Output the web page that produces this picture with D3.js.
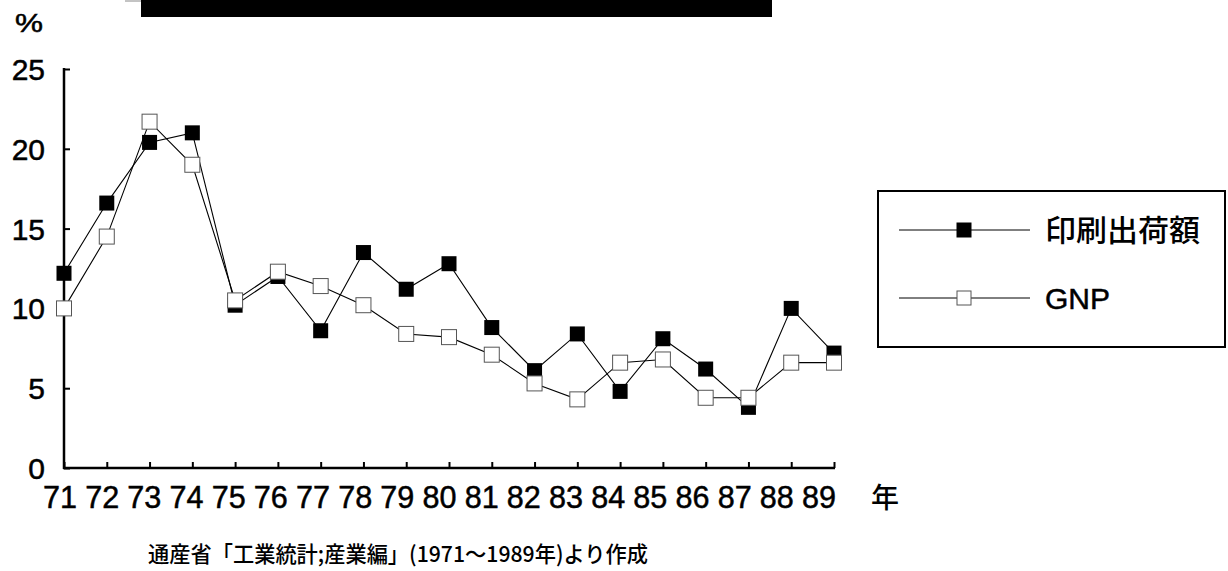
<!DOCTYPE html>
<html><head><meta charset="utf-8">
<script src="https://cdn.jsdelivr.net/npm/d3@7/dist/d3.min.js"></script>
<style>
html,body{margin:0;padding:0;background:#fff;}
svg{display:block;}
text{font-family:"Liberation Sans",Arial,"Noto Sans CJK JP",sans-serif;fill:#000;}
.jp{font-family:"Noto Sans CJK JP","Liberation Sans",sans-serif;}
.num{stroke:#000;stroke-width:0.5px;}
</style></head>
<body>
<svg id="c" width="1228" height="571"></svg>
<script>
const years = ["71","72","73","74","75","76","77","78","79","80","81","82","83","84","85","86","87","88","89"];
const printing = [12.2,16.6,20.4,21.0,10.2,12.0,8.6,13.5,11.2,12.8,8.8,6.1,8.4,4.8,8.1,6.2,3.8,10.0,7.2];
const gnp = [10.0,14.5,21.7,19.0,10.5,12.3,11.4,10.2,8.4,8.2,7.1,5.3,4.3,6.6,6.8,4.4,4.4,6.6,6.6];
const yTicks = [0,5,10,15,20,25];
const seriesNames = ["印刷出荷額","GNP"];
const unitLabel = "%";
const xUnit = "年";
const caption = "通産省「工業統計;産業編」(1971～1989年)より作成";

const svg = d3.select("#c");
const x = d3.scalePoint().domain(years).range([64, 834]);
const xl = d3.scalePoint().domain(years).range([60, 819]);
const y = d3.scaleLinear().domain([0,25]).range([468, 69]);

// top black bar
svg.append("rect").attr("x",141).attr("y",0).attr("width",631).attr("height",17).attr("fill","#000");
svg.append("line").attr("x1",125).attr("x2",141).attr("y1",1).attr("y2",1).attr("stroke","#888").attr("stroke-width",1);

// Y axis
const yAxis = d3.axisRight(y).tickValues(yTicks).tickSize(6).tickFormat("");
const gy = svg.append("g").attr("transform","translate(64,0)").call(yAxis);
gy.select(".domain").remove();
gy.selectAll(".tick line").attr("stroke","#000").attr("stroke-width",2);
svg.append("line").attr("x1",64).attr("x2",64).attr("y1",y(25)-1).attr("y2",y(0)+1).attr("stroke","#000").attr("stroke-width",2.5);
svg.selectAll(".ylab").data(yTicks).enter().append("text").attr("class","num")
  .attr("x",45).attr("y",d=>y(d)+11).attr("text-anchor","end").attr("font-size",30).text(d=>d);
svg.append("text").attr("class","num").attr("x",15).attr("y",32).attr("font-size",26)
  .attr("textLength",28).attr("lengthAdjust","spacingAndGlyphs").text(unitLabel);

// X axis
const xAxis = d3.axisTop(x).tickSize(6).tickFormat("");
const gx = svg.append("g").attr("transform","translate(0,468)").call(xAxis);
gx.select(".domain").remove();
gx.selectAll(".tick line").attr("stroke","#000").attr("stroke-width",2);
svg.append("line").attr("x1",63).attr("x2",835).attr("y1",468).attr("y2",468).attr("stroke","#000").attr("stroke-width",2.5);
svg.selectAll(".xlab").data(years).enter().append("text").attr("class","num")
  .attr("x",d=>xl(d)).attr("y",508).attr("text-anchor","middle").attr("font-size",32)
  .attr("textLength",34).attr("lengthAdjust","spacingAndGlyphs").text(d=>d);
svg.append("text").attr("class","jp").attr("x",885).attr("y",508).attr("text-anchor","middle").attr("font-size",28).attr("font-weight",500).text(xUnit);

// caption
svg.append("text").attr("class","jp").attr("x",148).attr("y",562).attr("font-size",22).attr("font-weight",500)
  .attr("textLength",500).attr("lengthAdjust","spacingAndGlyphs").text(caption);

// lines
const line = d3.line().x((d,i)=>x(years[i])).y(d=>y(d));
svg.append("path").datum(gnp).attr("d",line).attr("fill","none").attr("stroke","#000").attr("stroke-width",1.1);
svg.append("path").datum(printing).attr("d",line).attr("fill","none").attr("stroke","#000").attr("stroke-width",1.1);

// markers
const ms = 15;
svg.selectAll(".mp").data(printing).enter().append("rect")
  .attr("x",(d,i)=>x(years[i])-ms/2).attr("y",d=>y(d)-ms/2).attr("width",ms).attr("height",ms).attr("fill","#000");
svg.selectAll(".mg").data(gnp).enter().append("rect")
  .attr("x",(d,i)=>x(years[i])-ms/2).attr("y",d=>y(d)-ms/2).attr("width",ms).attr("height",ms)
  .attr("fill","#fff").attr("stroke","#555").attr("stroke-width",1);

// legend
svg.append("rect").attr("x",878).attr("y",191).attr("width",347).attr("height",156)
  .attr("fill","none").attr("stroke","#000").attr("stroke-width",2);
const leg = [{n:seriesNames[0],f:"#000",s:"#000",yy:230,w:155},{n:seriesNames[1],f:"#fff",s:"#555",yy:298,w:65}];
leg.forEach(l=>{
  svg.append("line").attr("x1",899).attr("x2",1030).attr("y1",l.yy).attr("y2",l.yy).attr("stroke","#000").attr("stroke-width",1);
  svg.append("rect").attr("x",964-7).attr("y",l.yy-7).attr("width",14).attr("height",14).attr("fill",l.f).attr("stroke",l.s).attr("stroke-width",1);
  svg.append("text").attr("class",l.n==="GNP"?"num":"jp").attr("x",1045).attr("y",l.yy+11)
    .attr("font-size",30).attr("font-weight",l.n==="GNP"?400:500)
    .attr("textLength",l.w).attr("lengthAdjust","spacingAndGlyphs").text(l.n);
});
</script>
</body></html>
